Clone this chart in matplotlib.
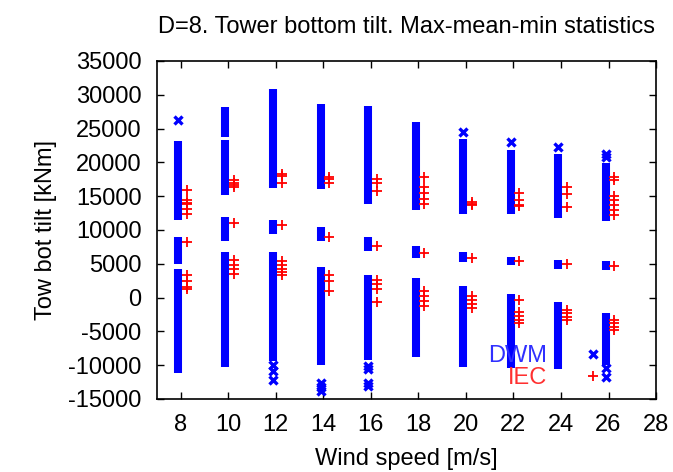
import matplotlib
matplotlib.use("Agg")
import matplotlib.pyplot as plt
from matplotlib.lines import Line2D

plt.rcParams['font.family'] = ['Liberation Sans', 'DejaVu Sans']
plt.rcParams['axes.unicode_minus'] = False

# -------------------------------
# DATA
# -------------------------------

wind = [8, 10, 12, 14, 16, 18, 20, 22, 24, 26]

# DWM: dense stacks of samples, given as (low, high) extent per statistic
dwm_max_lo = [11500, 15200, 16200, 16000, 13900, 12900, 12300, 12300, 11800, 11300]
dwm_max_hi = [23200, 23300, 30800, 28700, 28400, 25900, 23400, 21900, 21200, 19900]
dwm_mean_lo = [5000, 8300, 9400, 8300, 6900, 5900, 5300, 4800, 4300, 4100]
dwm_mean_hi = [9000, 11900, 11500, 10500, 9000, 7600, 6700, 6000, 5500, 5400]
dwm_min_lo = [-11100, -10300, -9400, -10000, -9300, -8800, -10300, -10400, -10500, -9900]
dwm_min_hi = [4300, 6700, 6700, 4500, 3300, 2900, 1700, 500, -700, -2300]

# extra stacked block above the max bar at 10 m/s
extra_ws = [10]
extra_lo = [23800]
extra_hi = [28200]

# isolated DWM samples
dwm_pts_ws = [8, 12, 12, 12, 14, 14, 14, 16, 16, 16, 16, 20, 22, 24, 26, 26, 26, 26]
dwm_pts_val = [26200, -10000, -10900, -12200, -12700, -13300, -13800,
               -10100, -10600, -12700, -13100, 24500, 23000, 22300,
               21300, 20800, -10400, -11700]

# IEC samples per wind speed (max, mean, min groups)
iec = {
    8: [15900, 14500, 14000, 13800, 13100, 12400, 8200, 3300, 2400, 1600, 1300],
    10: [17400, 17000, 16600, 16300, 11000, 5500, 4800, 4200, 3500],
    12: [18300, 18000, 17000, 10700, 5400, 4800, 4300, 3800, 3300],
    14: [17900, 17500, 16900, 8900, 3400, 2400, 900],
    16: [17500, 17000, 15700, 7600, 2600, 2000, 1300, -700],
    18: [17850, 16400, 15400, 14600, 13800, 6600, 900, 300, -500, -1200],
    20: [14200, 13900, 13700, 5800, 200, -400, -900, -1500],
    22: [15500, 14400, 13700, 13500, 5400, -400, -2100, -2700, -3300, -3800],
    24: [16400, 15300, 13400, 5000, -1800, -2300, -2800, -3300],
    26: [17800, 17400, 15100, 14400, 13700, 12900, 12200, 4600, -3300, -3800, -4300, -4800],
}

DWM_SHIFT = -0.12
IEC_SHIFT = 0.25

# -------------------------------
# PLOT
# -------------------------------

fig = plt.figure(figsize=(6.73, 4.72), dpi=100)
ax = fig.add_axes([0.2333, 0.1547, 0.7415, 0.7161])

xs = [w + DWM_SHIFT for w in wind]
bar_kw = dict(color='#0000ff', lw=5.8, capstyle='butt')
ax.vlines(xs, dwm_max_lo, dwm_max_hi, **bar_kw)
ax.vlines(xs, dwm_mean_lo, dwm_mean_hi, **bar_kw)
ax.vlines(xs, dwm_min_lo, dwm_min_hi, **bar_kw)
ax.vlines([w + DWM_SHIFT for w in extra_ws], extra_lo, extra_hi, **bar_kw)
ax.plot([w + DWM_SHIFT for w in dwm_pts_ws], dwm_pts_val, ls='', marker='x',
        color='#0000ff', ms=5.5, mew=2.4)

for w, vals in iec.items():
    ax.plot([w + IEC_SHIFT] * len(vals), vals, ls='', marker='+',
            color='#ff0000', ms=7, mew=1.3)

ax.set_xlim(7, 28)
ax.set_ylim(-15000, 35000)
ax.set_xticks(range(8, 29, 2))
ax.set_yticks(range(-15000, 35001, 5000))
ax.tick_params(direction='in', length=5, width=1, top=True, right=True,
               labelsize=17, colors='black')
ax.tick_params(axis='y', pad=11)
ax.tick_params(axis='x', pad=11)
for sp in ax.spines.values():
    sp.set_linewidth(1.2)

ax.set_title("D=8. Tower bottom tilt. Max-mean-min statistics", fontsize=17, pad=20)
ax.set_xlabel("Wind speed [m/s]", fontsize=17, labelpad=8.5)
ax.set_ylabel("Tow bot tilt [kNm]", fontsize=17, labelpad=8)

handles = [Line2D([], [], ls='', marker='x', color='#0000ff', ms=5.5, mew=2.4),
           Line2D([], [], ls='', marker='+', color='#ff0000', ms=7, mew=1.3)]
ax.legend(handles, ['DWM', 'IEC'], loc='lower right', bbox_to_anchor=(0.928, 0.03),
          markerfirst=False, frameon=False, fontsize=17, labelcolor=['#3030ff', '#ff3030'],
          handlelength=2.3, handletextpad=0.8, labelspacing=0.0,
          borderpad=0, borderaxespad=0)

fig.savefig("out.png", dpi=100)
